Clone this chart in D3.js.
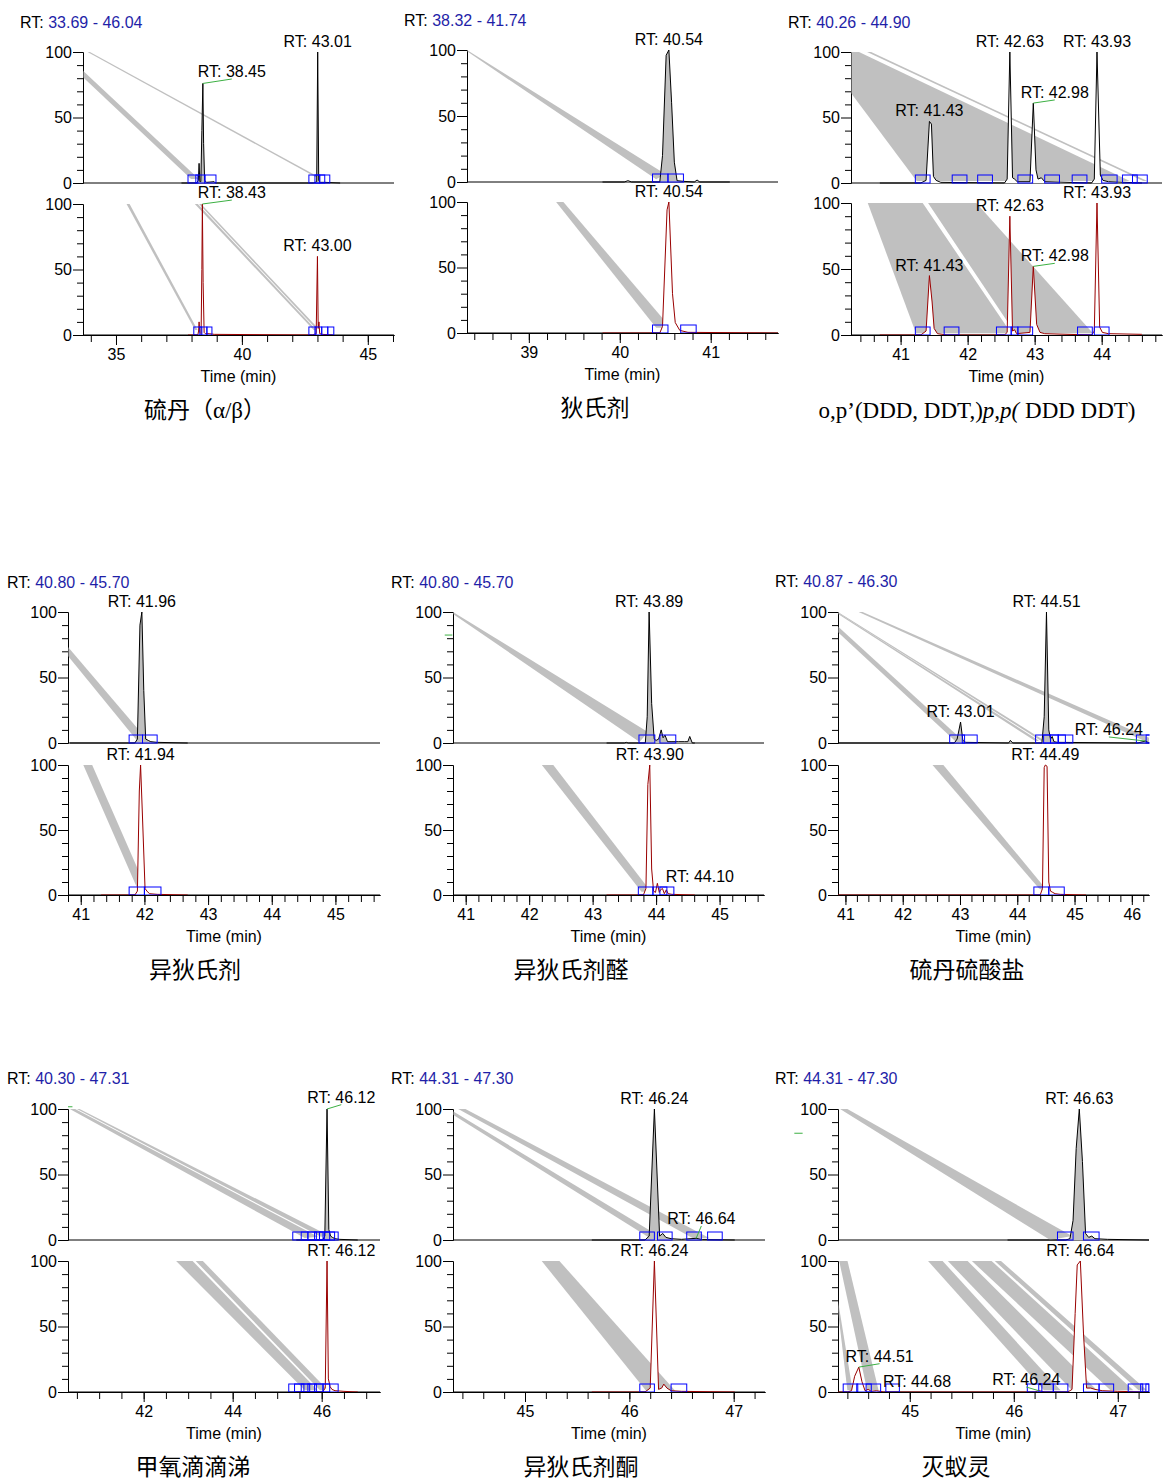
<!DOCTYPE html>
<html>
<head>
<meta charset="utf-8">
<script src="https://cdn.jsdelivr.net/npm/d3@7"></script>
<style>
  body { margin: 0; background: #fff; }
  svg { display: block; font-family: "Liberation Sans", Arial, sans-serif; }
</style>
</head>
<body>
<svg id="chart" width="1164" height="1481"></svg>
<script>
// ---------------- data ----------------
const compoundNames = ["硫丹（α/β）", "狄氏剂", "o,p’(DDD, DDT,)p,p( DDD DDT)",
  "异狄氏剂", "异狄氏剂醛", "硫丹硫酸盐", "甲氧滴滴涕", "异狄氏剂酮", "灭蚁灵"];
const italicRun = { 2: "p,p(" };

const rtRanges = [[33.69, 46.04], [38.32, 41.74], [40.26, 44.90], [40.80, 45.70], [40.80, 45.70],
  [40.87, 46.30], [40.30, 47.31], [44.31, 47.30], [44.31, 47.30]];

const timeTickLabels = [[35, 40, 45], [39, 40, 41], [41, 42, 43, 44], [41, 42, 43, 44, 45],
  [41, 42, 43, 44, 45], [41, 42, 43, 44, 45, 46], [42, 44, 46], [45, 46, 47], [45, 46, 47]];
const timeMinorSteps = [1, 0.2, 0.2, 0.2, 0.2, 0.2, 0.5, 0.2, 0.2];
const intensityTicks = [0, 50, 100];
const intensityMinorTicks = [10, 20, 30, 40, 60, 70, 80, 90];

// quantifier ion traces [time, relative abundance]
const upperTraces = [
  [[37.60,0],[38.20,0],[38.27,2],[38.30,15],[38.33,1],[38.37,1],[38.41,40],[38.45,76],[38.48,30],[38.52,2],[38.60,0.5],[38.90,1],[38.95,0],[42.85,0],[42.97,1],[43.01,100],[43.05,2],[43.10,0.5],[43.30,0.5],[43.90,0]],
  [[39.81,0],[40.05,0],[40.09,1],[40.13,0],[40.44,0],[40.47,20],[40.51,96],[40.54,100],[40.57,60],[40.60,15],[40.63,1],[40.70,0.5],[40.82,0],[40.85,1.5],[40.88,0],[41.21,0]],
  [[40.69,0],[41.30,0],[41.38,2],[41.43,47],[41.46,45],[41.49,5],[41.53,2],[41.60,0.5],[42.55,0],[42.59,3],[42.63,100],[42.67,4],[42.70,3],[42.74,1],[42.93,1],[42.98,61],[43.02,10],[43.05,3],[43.10,4],[43.15,1],[43.85,0],[43.89,3],[43.93,100],[43.98,6],[44.02,2],[44.10,1],[44.60,0]],
  [[40.83,0],[41.85,0],[41.89,3],[41.93,90],[41.96,100],[41.99,40],[42.02,3],[42.06,2],[42.10,1],[42.20,0.5],[42.68,0]],
  [[43.22,0],[43.50,0],[43.53,0.5],[43.56,0],[43.83,0],[43.86,20],[43.89,100],[43.93,30],[43.97,3],[44.00,2],[44.04,3],[44.08,10],[44.11,4],[44.14,6],[44.18,1],[44.25,1],[44.35,1],[44.45,1],[44.50,1],[44.53,5],[44.57,0],[44.61,0]],
  [[40.87,0],[42.90,0],[42.95,3],[43.01,16],[43.05,2],[43.10,0.5],[43.85,0],[43.88,2],[43.92,0],[44.43,0],[44.47,20],[44.51,100],[44.55,10],[44.58,3],[44.61,5],[44.64,1],[44.70,0.5],[46.10,0],[46.24,1.5],[46.30,0]],
  [[45.43,0],[46.02,0],[46.07,3],[46.12,100],[46.16,8],[46.20,3],[46.24,2],[46.30,1],[46.40,0.5],[46.81,0]],
  [[45.64,0],[46.15,0],[46.19,3],[46.24,100],[46.29,3],[46.32,5],[46.35,2],[46.40,1],[46.50,0.5],[46.64,1.3],[46.70,0.3],[47.01,0]],
  [[45.94,0],[46.50,0],[46.54,1],[46.57,15],[46.60,70],[46.63,100],[46.66,60],[46.69,5],[46.72,2],[46.75,3],[46.78,1],[46.90,0.5],[47.30,0]]
];

// qualifier ion traces [time, relative abundance]
const lowerTraces = [
  [[37.86,0],[38.25,0],[38.28,3],[38.30,10],[38.33,2],[38.38,1],[38.41,50],[38.43,100],[38.46,40],[38.50,2],[38.55,1],[38.70,1],[38.90,0.5],[42.80,0],[42.95,1],[43.00,60],[43.03,5],[43.06,10],[43.09,1],[43.20,0.5],[43.60,0]],
  [[39.81,0],[40.44,0],[40.47,5],[40.52,94],[40.54,100],[40.58,30],[40.61,8],[40.66,2],[40.75,0.5],[41.74,0]],
  [[40.69,0],[41.30,0],[41.38,3],[41.43,45],[41.47,25],[41.50,5],[41.55,1],[41.70,0],[42.55,0],[42.59,2],[42.63,90],[42.67,3],[42.70,4],[42.73,1],[42.93,2],[42.98,52],[43.03,8],[43.08,2],[43.15,1],[43.85,0],[43.89,3],[43.93,100],[43.97,6],[44.01,2],[44.10,1],[44.60,0.5]],
  [[41.32,0],[41.85,0],[41.89,3],[41.92,80],[41.94,100],[41.97,60],[42.01,5],[42.04,3],[42.08,1],[42.20,0.5],[42.68,0]],
  [[43.22,0],[43.80,0],[43.84,5],[43.87,85],[43.90,100],[43.93,20],[43.96,3],[43.99,2],[44.02,9],[44.05,2],[44.07,4],[44.10,5],[44.13,1],[44.16,4],[44.19,1],[44.25,0.5],[44.61,0]],
  [[40.87,0],[44.40,0],[44.44,5],[44.47,98],[44.49,100],[44.52,99],[44.55,10],[44.58,3],[44.62,2],[44.66,1],[44.75,0.5],[45.20,0]],
  [[45.43,0],[46.02,0],[46.08,3],[46.12,100],[46.15,10],[46.19,4],[46.23,2],[46.30,1],[46.50,0.5],[46.81,0]],
  [[45.64,0],[46.15,0],[46.20,3],[46.24,100],[46.28,2],[46.31,3],[46.33,6],[46.36,3],[46.40,1],[46.50,0.5],[47.01,0]],
  [[44.31,0],[44.40,0],[44.44,1],[44.47,12],[44.51,19],[44.54,8],[44.57,1],[44.60,2],[44.63,0.5],[44.68,1],[44.75,0],[46.20,0],[46.24,1],[46.30,0],[46.52,0],[46.56,2],[46.59,60],[46.61,97],[46.64,100],[46.67,45],[46.70,3],[46.74,3],[46.78,2],[46.85,1],[47.00,0.5],[47.30,0]]
];

// grey streaks (corner polygons in [time, abundance])
const upperStreaks = [
  [[[33.69,85.7],[38.29,3],[37.98,3],[33.69,80.7]],
   [[33.85,101.2],[43.05,4.6],[42.92,4.6],[33.85,100.2]]],
  [[[38.32,100],[40.50,6],[40.40,2],[38.32,99]]],
  [[[40.26,100],[40.38,100],[44.42,1.5],[41.24,1.5],[40.26,68.7]],
   [[40.50,100],[40.56,100],[44.68,1.5],[44.62,1.5]]],
  [[[40.80,73.3],[42.02,3.8],[41.89,1.5],[40.80,66.4]]],
  [[[40.80,100],[43.87,8.4],[43.74,0.8],[40.80,98.5]]],
  [[[40.87,89],[43.05,2],[42.93,1],[40.87,84.5]],
   [[40.87,100],[44.47,2],[44.42,1.5],[40.87,99.2]],
   [[40.87,99.4],[44.38,1.8],[44.32,1.3],[40.87,98.4]],
   [[41.23,100],[41.30,100],[46.30,4],[46.30,0]]],
  [[[40.56,100],[46.18,3],[45.98,2.5],[40.50,100]],
   [[40.46,100],[45.92,2.5],[45.62,1.5],[40.34,100]]],
  [[[44.41,100.8],[46.77,1.3],[46.61,1.3],[44.36,100]],
   [[44.31,98.2],[46.32,1.3],[46.20,1.3],[44.31,95.6]]],
  [[[44.40,100],[46.56,3],[46.35,0],[44.33,100]]]
];
const lowerStreaks = [
  [[[35.42,100],[35.54,100],[38.24,3.8],[38.14,3.8]],
   [[38.13,100],[38.25,100],[42.95,3.8],[42.85,3.8]],
   [[38.30,100],[38.38,100],[43.08,4],[42.98,4]]],
  [[[39.30,100],[39.38,100],[40.56,4],[40.40,4]]],
  [[[40.51,100],[41.33,100],[42.65,1.3],[41.23,1.3]],
   [[41.41,100],[42.13,100],[43.87,1.3],[42.71,1.3]]],
  [[[41.04,100],[41.18,100],[42.03,5],[41.90,3.8]]],
  [[[42.20,100],[42.38,100],[43.92,2.5],[43.77,2.5]]],
  [[[42.52,100],[42.71,100],[44.55,2],[44.38,5]]],
  [[[42.73,100],[43.10,100],[45.91,1.3],[45.62,1.3]],
   [[43.17,100],[43.33,100],[46.14,1.3],[45.96,1.3]]],
  [[[45.16,100],[45.33,100],[46.45,0],[46.17,0]]],
  [[[44.32,100.5],[44.40,100.5],[44.70,1.3],[44.59,1.3]],
   [[44.31,69.6],[44.45,1.3],[44.40,1.3],[44.31,62]],
   [[45.17,100.5],[45.31,100.5],[46.45,1.3],[46.29,1.3]],
   [[45.36,100.5],[45.55,100.5],[46.80,1.3],[46.56,1.3]],
   [[45.59,100.5],[45.78,100.5],[47.15,1.3],[46.93,1.3]],
   [[45.81,100.5],[45.87,100.5],[47.28,1.3],[47.20,1.3]]]
];

// integration windows [start, end] (min)
const upperWindows = [
  [[37.86,38.25],[38.17,38.53],[38.53,38.97],[42.66,43.09],[42.90,43.29],[43.09,43.49]],
  [[40.36,40.53],[40.53,40.70]],
  [[41.22,41.44],[41.77,41.99],[42.15,42.37],[42.75,42.97],[43.15,43.37],[43.56,43.78],[44.00,44.23],[44.31,44.53],[44.46,44.68]],
  [[41.76,41.97],[41.97,42.20]],
  [[43.73,43.98],[44.06,44.31]],
  [[42.82,43.08],[43.04,43.30],[44.32,44.58],[44.46,44.72],[44.58,44.84],[44.71,44.97],[46.08,46.33],[46.25,46.33]],
  [[45.35,45.69],[45.54,45.88],[45.69,46.03],[45.84,46.18],[45.95,46.29],[46.06,46.37]],
  [[46.10,46.24],[46.27,46.41],[46.55,46.69],[46.75,46.89]],
  [[46.42,46.57],[46.67,46.82]]
];
const lowerWindows = [
  [[38.09,38.41],[38.33,38.61],[38.61,38.81],[42.66,42.94],[42.90,43.17],[43.17,43.41],[43.41,43.65]],
  [[40.36,40.53],[40.67,40.84]],
  [[41.22,41.44],[41.65,41.87],[42.43,42.65],[42.65,42.75],[42.75,42.97],[43.64,43.86],[43.89,44.11]],
  [[41.76,42.00],[42.00,42.26]],
  [[43.72,43.95],[43.95,44.17],[44.06,44.28]],
  [[44.29,44.55],[44.55,44.82]],
  [[45.26,45.60],[45.39,45.73],[45.54,45.88],[45.69,46.03],[45.84,46.18],[46.03,46.37]],
  [[46.10,46.24],[46.40,46.55]],
  [[44.36,44.50],[44.49,44.63],[44.58,44.72],[44.77,44.90],[46.13,46.27],[46.24,46.38],[46.38,46.52],[46.67,46.82],[46.82,46.96],[47.10,47.24],[47.22,47.30],[47.27,47.30]]
];

// peak annotations: [rt, labelTime, labelAbundance, leader]
const upperLabels = [
  [[38.45, 39.60, 79.4, true], [43.01]],
  [[40.54]],
  [[41.43], [42.63], [42.98, 43.30, 63.4, true], [43.93]],
  [[41.96]],
  [[43.89]],
  [[43.01], [44.51], [46.24, 45.60, 4.6, true]],
  [[46.12, 46.44, 103.3, true]],
  [[46.24], [46.64, 46.69, 10.7, true]],
  [[46.63]]
];
const lowerLabels = [
  [[38.43, 39.60, 103, true], [43.00]],
  [[40.54]],
  [[41.43], [42.63], [42.98, 43.30, 54.3, true], [43.93]],
  [[41.94]],
  [[43.90], [44.10, 44.69, 6.2, false]],
  [[44.49]],
  [[46.12, 46.44, 100, false]],
  [[46.24]],
  [[44.51, 44.71, 21.6, true], [44.68, 45.07, 0, false], [46.24, 46.12, 3.8, true], [46.64]]
];

// detached leader stubs: [panel, t1, t2, abundance]
const strayLeaders = [[4, 40.67, 40.79, 82.4], [6, 40.30, 40.40, 101.7], [8, 43.89, 43.97, 81.5]];

// ---------------- layout ----------------
const layout = [
  { ax: 83,  rx: 394,  u: [52, 183],   l: [204, 335],   hx: 20,  hy: 22,   tx: 205, fillU: "#c0c0c0" },
  { ax: 467, rx: 778,  u: [50, 182],   l: [202, 333],   hx: 404, hy: 20,   tx: 595, fillU: "#c0c0c0" },
  { ax: 851, rx: 1162, u: [52, 183],   l: [203, 335],   hx: 788, hy: 22,   tx: 977, fillU: "#ffffff" },
  { ax: 68,  rx: 380,  u: [612, 743],  l: [765, 895],   hx: 7,   hy: 582,  tx: 195, fillU: "#c0c0c0" },
  { ax: 453, rx: 764,  u: [612, 743],  l: [765, 895],   hx: 391, hy: 582,  tx: 571, fillU: "#c0c0c0" },
  { ax: 838, rx: 1149, u: [612, 743],  l: [765, 895],   hx: 775, hy: 581,  tx: 967, fillU: "#c0c0c0" },
  { ax: 68,  rx: 380,  u: [1109, 1240], l: [1261, 1392], hx: 7,   hy: 1078, tx: 193, fillU: "#c0c0c0" },
  { ax: 453, rx: 765,  u: [1109, 1240], l: [1261, 1392], hx: 391, hy: 1078, tx: 581, fillU: "#c0c0c0" },
  { ax: 838, rx: 1149, u: [1109, 1240], l: [1261, 1392], hx: 775, hy: 1078, tx: 956, fillU: "#c0c0c0" }
];

const FONT = '"Liberation Sans", Arial, sans-serif';
const GREEN = "#3cb043", BLUE = "#0000ff", STREAK = "#c0c0c0";
const WINDOW_PX = 8;

const svg = d3.select("#chart");
const defs = svg.append("defs");

function valueAt(trace, t) {
  for (let k = 1; k < trace.length; k++) {
    const a = trace[k - 1], b = trace[k];
    if (t >= a[0] && t <= b[0]) return a[1] + (b[1] - a[1]) * (t - a[0]) / (b[0] - a[0]);
  }
  return 0;
}

function styleAxis(sel) {
  sel.attr("font-size", 16).attr("font-family", FONT);
  sel.selectAll("text").attr("fill", "#000");
  sel.selectAll("line").attr("stroke", "#000");
  sel.select("path.domain").attr("stroke", "#000");
}

function drawPlot(g, i, x, yr, trace, streaks, windows, labels, stroke, fill, key) {
  const L = layout[i];
  const y = d3.scaleLinear().domain([0, 100]).range([yr[1], yr[0]]);
  const clipId = `clip-${key}-${i}`;
  defs.append("clipPath").attr("id", clipId).append("rect")
    .attr("x", L.ax + 0.5).attr("y", yr[0]).attr("width", L.rx - L.ax).attr("height", yr[1] - yr[0] + 1);

  // intensity axis
  g.append("g").attr("transform", `translate(${L.ax},0)`)
    .call(d3.axisLeft(y).tickValues(intensityMinorTicks).tickSize(6).tickSizeOuter(0).tickFormat(""))
    .call(styleAxis);
  g.append("g").attr("transform", `translate(${L.ax},0)`)
    .call(d3.axisLeft(y).tickValues(intensityTicks).tickSize(10).tickPadding(1).tickSizeOuter(0))
    .call(styleAxis);
  g.append("line").attr("x1", L.ax).attr("x2", L.rx).attr("y1", y(0)).attr("y2", y(0))
    .attr("stroke", "#000");

  // streaks
  const poly = d3.line().x(p => x(p[0])).y(p => y(p[1]));
  g.append("g").attr("clip-path", `url(#${clipId})`)
    .selectAll("path").data(streaks).join("path")
    .attr("d", d => poly(d) + "Z").attr("fill", STREAK);

  // trace
  g.append("path").datum(trace)
    .attr("d", d3.area().x(d => x(d[0])).y0(y(0)).y1(d => y(d[1])))
    .attr("fill", fill);
  g.append("path").datum(trace)
    .attr("d", d3.line().x(d => x(d[0])).y(d => y(d[1])))
    .attr("fill", "none").attr("stroke", stroke).attr("stroke-width", 1)
    .attr("stroke-linejoin", "round");

  // integration windows
  g.append("g").attr("clip-path", `url(#${clipId})`)
    .selectAll("rect").data(windows).join("rect")
    .attr("x", d => x(d[0])).attr("y", y(0) - WINDOW_PX)
    .attr("width", d => x(d[1]) - x(d[0])).attr("height", WINDOW_PX)
    .attr("fill", "none").attr("stroke", BLUE).attr("stroke-width", 1);

  // peak labels
  labels.forEach(lb => {
    const [rt, lt, lv, leader] = lb;
    const apex = valueAt(trace, rt);
    const offset = lt !== undefined;
    const tx = x(offset ? lt : rt);
    const ty = offset ? y(lv) : y(apex);
    if (leader) {
      g.append("line").attr("x1", x(rt)).attr("y1", y(apex)).attr("x2", tx).attr("y2", ty)
        .attr("stroke", GREEN).attr("stroke-width", 1);
    }
    g.append("text").attr("x", tx).attr("y", ty - (leader ? 2 : 5))
      .attr("text-anchor", "middle").attr("font-size", 16).attr("font-family", FONT)
      .text("RT: " + rt.toFixed(2));
  });
  return y;
}

compoundNames.forEach((name, i) => {
  const L = layout[i];
  const range = rtRanges[i];
  const g = svg.append("g");
  const x = d3.scaleLinear().domain(range).range([L.ax, L.rx]);

  // header
  const h = g.append("text").attr("x", L.hx).attr("y", L.hy + 6)
    .attr("font-size", 16).attr("font-family", FONT);
  h.append("tspan").attr("fill", "#000").text("RT: ");
  h.append("tspan").attr("fill", "#1f1fa8").text(`${range[0].toFixed(2)} - ${range[1].toFixed(2)}`);

  const yU = drawPlot(g, i, x, L.u, upperTraces[i], upperStreaks[i], upperWindows[i], upperLabels[i], "#000", L.fillU, "u");
  drawPlot(g, i, x, L.l, lowerTraces[i], lowerStreaks[i], lowerWindows[i], lowerLabels[i], "#990000", "#ffffff", "l");

  strayLeaders.filter(s => s[0] === i).forEach(s => {
    g.append("line").attr("x1", x(s[1])).attr("x2", x(s[2])).attr("y1", yU(s[3])).attr("y2", yU(s[3]))
      .attr("stroke", GREEN).attr("stroke-width", 1);
  });

  // time axis
  const step = timeMinorSteps[i];
  const first = Math.ceil(range[0] / step - 1e-9);
  const last = Math.floor(range[1] / step + 1e-9);
  const minor = d3.range(first, last + 1).map(k => +(k * step).toFixed(2));
  const base = L.l[1];
  g.append("g").attr("transform", `translate(0,${base})`)
    .call(d3.axisBottom(x).tickValues(minor).tickSize(7).tickSizeOuter(0).tickFormat(""))
    .call(styleAxis);
  g.append("g").attr("transform", `translate(0,${base})`)
    .call(d3.axisBottom(x).tickValues(timeTickLabels[i]).tickSize(10).tickPadding(4)
      .tickSizeOuter(0).tickFormat(d3.format("d")))
    .call(styleAxis);

  g.append("text").attr("x", (L.ax + L.rx) / 2).attr("y", base + 47)
    .attr("text-anchor", "middle").attr("font-size", 16).attr("font-family", FONT)
    .text("Time (min)");

  // compound title
  const t = g.append("text").attr("x", L.tx).attr("y", base + 83)
    .attr("text-anchor", "middle").attr("font-size", 23)
    .attr("font-family", '"Liberation Serif", "Times New Roman", "Noto Sans CJK SC", serif');
  const run = italicRun[i];
  if (run) {
    const k = name.indexOf(run);
    t.append("tspan").text(name.slice(0, k));
    t.append("tspan").attr("font-style", "italic").text(run);
    t.append("tspan").text(name.slice(k + run.length));
  } else {
    t.text(name);
  }
});
</script>
</body>
</html>
